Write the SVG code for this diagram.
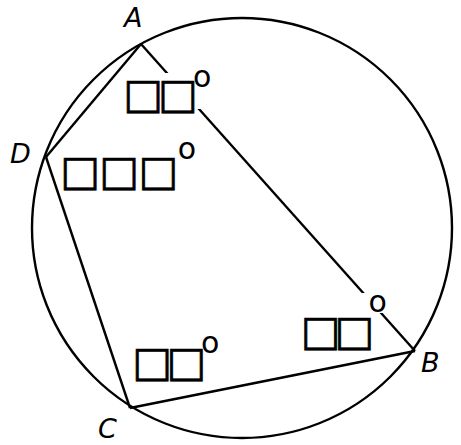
<svg xmlns="http://www.w3.org/2000/svg" width="461" height="445" viewBox="0 0 461 445">
<style>
.ln{stroke:#000;stroke-width:2.4;fill:none}
.pt{font-family:"DejaVu Sans",sans-serif;font-style:italic;font-size:27px;fill:#000}
.lb{font-family:"DejaVu Sans",sans-serif;fill:#000}
.bx{font-size:42px;stroke:#000;stroke-width:0.7}
.dg{font-size:30px;stroke:none}
.bg{fill:#fff}
</style>
<rect width="461" height="445" fill="#fff"/>
<g id="circle"><circle class="ln" cx="242" cy="228" r="210"/></g>
<g id="connectors">
<line class="ln" x1="141" y1="44" x2="415" y2="351"/>
<line class="ln" x1="141" y1="44" x2="46" y2="157"/>
<line class="ln" x1="46" y1="157" x2="130" y2="408"/>
<line class="ln" x1="130" y1="408" x2="415" y2="351"/>
</g>
<g id="A"><text class="pt" x="124" y="27">A</text></g>
<g id="B"><text class="pt" x="421" y="372">B</text></g>
<g id="C"><text class="pt" x="98" y="438">C</text></g>
<g id="D"><text class="pt" x="10" y="163">D</text></g>
<g id="angleA">
<rect class="bg" x="127" y="73" width="88" height="36"/>
<text class="lb" x="123.15" y="108"><tspan class="bx" letter-spacing="-4.7">□□</tspan><tspan class="dg" dy="-21">o</tspan></text>
</g>
<g id="angleD">
<text class="lb" x="60.15" y="185"><tspan class="bx" letter-spacing="-0.45">□□□</tspan><tspan class="dg" dy="-26">o</tspan></text>
</g>
<g id="angleC">
<text class="lb" x="132.15" y="376"><tspan class="bx" letter-spacing="-5.2">□□</tspan><tspan class="dg" dy="-23">o</tspan></text>
</g>
<g id="angleB">
<rect class="bg" x="362" y="293" width="23" height="20"/>
<text class="lb" x="300.65" y="345"><tspan class="bx" letter-spacing="-5.7">□□</tspan><tspan class="dg" dy="-33">o</tspan></text>
</g>
</svg>
